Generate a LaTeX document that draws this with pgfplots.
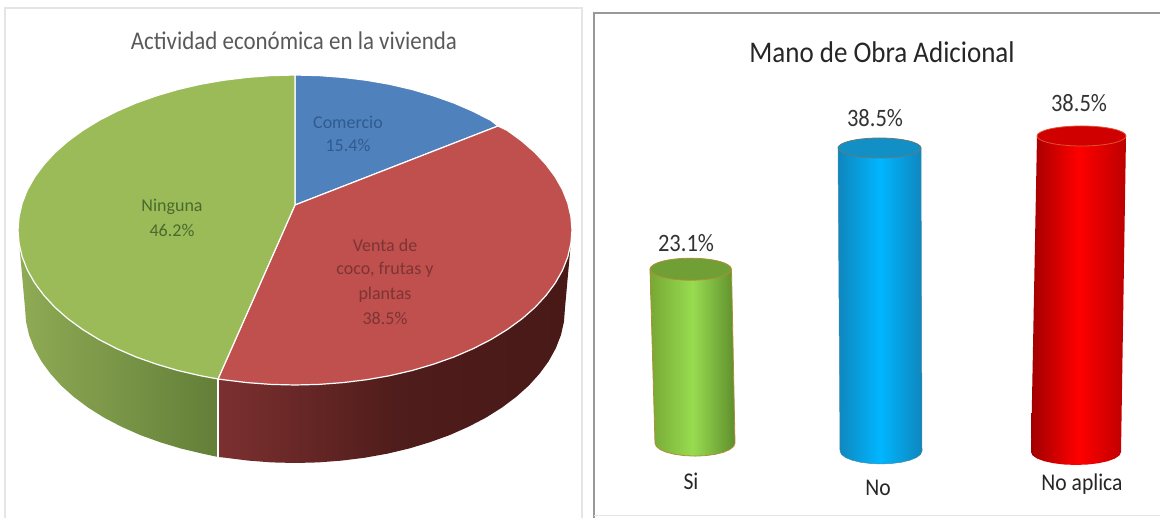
\documentclass[border=0pt]{standalone}
\usepackage{fontspec}
\setmainfont{Carlito}
\usepackage{graphicx}
\usepackage{pgfplots}
\pgfplotsset{compat=1.18}
\definecolor{pieblue}{HTML}{4F81BD}
\definecolor{piered}{HTML}{C0504D}
\definecolor{piegreen}{HTML}{9BBB59}
\definecolor{txtblue}{HTML}{2F5C8C}
\definecolor{txtred}{HTML}{7C3434}
\definecolor{txtgreen}{HTML}{4A6A2C}
\definecolor{sideGa}{HTML}{8FAB55}
\definecolor{sideGb}{HTML}{637F38}
\definecolor{sideRa}{HTML}{7C3030}
\definecolor{sideRm}{HTML}{4F1D1B}
\definecolor{sideRb}{HTML}{481917}
\definecolor{edgeG}{HTML}{AE8E3A}
\definecolor{cylGa}{HTML}{76A834}
\definecolor{cylGb}{HTML}{98DC50}
\definecolor{cylGc}{HTML}{5F8F2D}
\definecolor{cylGt}{HTML}{70A035}
\definecolor{edgeB}{HTML}{4A8CAA}
\definecolor{edgeT}{HTML}{66787A}
\definecolor{cylBa}{HTML}{0F86BD}
\definecolor{cylBb}{HTML}{00B6FF}
\definecolor{cylBt}{HTML}{1290C6}
\definecolor{cylRa}{HTML}{A00000}
\definecolor{cylRc}{HTML}{BC0000}
\definecolor{cylRt}{HTML}{D00000}
\definecolor{edgeR}{HTML}{E05030}
\newcommand{\fs}[1]{\fontsize{#1}{#1}\selectfont}
\newcommand{\narrow}[2]{\fs{#1}\scalebox{.9}[1]{#2}}
\pgfplotsset{canvas/.style={scale only axis,width=1160pt,height=518pt,at={(0pt,0pt)},anchor=south west,hide axis,xmin=0,xmax=1160}}
\begin{document}
\begin{tikzpicture}
% left panel and pie, pixel coordinates
\begin{axis}[canvas,ymin=0,ymax=518,y dir=reverse]
\path (rel axis cs:0,0) rectangle (rel axis cs:1,1);
\addplot[draw=black!10,line width=1.2pt] coordinates {(5,518) (5,8) (582,8) (582,518)};
\addplot[draw=black!40,line width=1.5pt] coordinates {(594,518) (594,13) (1160,13)};
\addplot[draw=black!10,line width=1pt] coordinates {(594,516) (1160,516)};
% side of the pie
\addplot[draw=none,left color=sideGa,right color=sideGb] coordinates {
(18,230) (19.1,243.5) (22.2,256.9) (27.4,270.1) (34.7,283) (44,295.5) (55.1,307.5) (68.1,318.9)
(82.8,329.6) (99.1,339.6) (116.9,348.7) (136.1,357) (156.5,364.2) (177.9,370.5) (200.3,375.7) (218,379)
(218,457) (202.7,453.7) (180.8,448.5) (160,442.2) (140.1,435) (121.4,426.7) (104,417.6) (88.1,407.6)
(73.8,396.9) (61.1,385.5) (50.3,373.5) (41.2,361) (34.1,348.1) (29,334.9) (26,321.5) (25,308)} -- cycle;
\addplot[draw=none,left color=sideRa,right color=sideRb,middle color=sideRm] coordinates {
(218,379) (223.3,379.7) (246.9,382.6) (270.9,384.4) (295,385) (319.1,384.4) (343.1,382.6) (366.7,379.7)
(389.7,375.7) (412.1,370.5) (433.5,364.2) (453.9,357) (473.1,348.7) (490.9,339.6) (507.2,329.6) (521.9,318.9)
(534.9,307.5) (546,295.5) (555.3,283) (562.6,270.1) (567.8,256.9) (570.9,243.5) (572,230)
(565,308) (564,321.5) (561,334.9) (555.9,348.1) (548.8,361) (539.7,373.5) (528.9,385.5) (516.2,396.9)
(501.9,407.6) (486,417.6) (468.6,426.7) (449.9,435) (430,442.2) (409.2,448.5) (387.3,453.7) (364.9,457.7)
(341.9,460.6) (318.5,462.4) (295,463) (271.5,462.4) (248.1,460.6) (225.1,457.7) (218,457)} -- cycle;
\addplot[draw=white,line width=1.2pt] coordinates {(218,379) (218,457)};
% top of the pie: Comercio 15.4, Venta 38.5, Ninguna 46.2
\addplot[draw=white,line width=1.2pt,fill=pieblue] coordinates {
(295,205) (295,75) (319.1,75.6) (343.1,77.4) (366.7,80.3) (389.7,84.3) (412.1,89.5) (433.5,95.8)
(453.9,103) (473.1,111.3) (490.9,120.4) (498,126)} -- cycle;
\addplot[draw=white,line width=1.2pt,fill=piered] coordinates {
(295,205) (498,126) (507.2,130.4) (521.9,141.1) (534.9,152.5) (546,164.5) (555.3,177) (562.6,189.9)
(567.8,203.1) (570.9,216.5) (572,230) (570.9,243.5) (567.8,256.9) (562.6,270.1) (555.3,283) (546,295.5)
(534.9,307.5) (521.9,318.9) (507.2,329.6) (490.9,339.6) (473.1,348.7) (453.9,357) (433.5,364.2) (412.1,370.5)
(389.7,375.7) (366.7,379.7) (343.1,382.6) (319.1,384.4) (295,385) (270.9,384.4) (246.9,382.6) (223.3,379.7) (218,379)} -- cycle;
\addplot[draw=white,line width=1.2pt,fill=piegreen] coordinates {
(295,205) (218,379) (200.3,375.7) (177.9,370.5) (156.5,364.2) (136.1,357) (116.9,348.7) (99.1,339.6)
(82.8,329.6) (68.1,318.9) (55.1,307.5) (44,295.5) (34.7,283) (27.4,270.1) (22.2,256.9) (19.1,243.5)
(18,230) (19.1,216.5) (22.2,203.1) (27.4,189.9) (34.7,177) (44,164.5) (55.1,152.5) (68.1,141.1)
(82.8,130.4) (99.1,120.4) (116.9,111.3) (136.1,103) (156.5,95.8) (177.9,89.5) (200.3,84.3) (223.3,80.3)
(246.9,77.4) (270.9,75.6) (295,75)} -- cycle;
\node[text=black!65] at (axis cs:294,41) {\narrow{25.5}{Actividad económica en la vivienda}};
\node[text=txtblue,align=center] at (axis cs:348,134) {\fs{18}Comercio\\[9pt]\fs{18}15.4\%};
\node[text=txtgreen,align=center] at (axis cs:172,218) {\fs{18}Ninguna\\[9pt]\fs{18}46.2\%};
\node[text=txtred,align=center] at (axis cs:385,282) {\fs{18}Venta de\\[9pt]\fs{18}coco, frutas y\\[9pt]\fs{18}plantas\\[9pt]\fs{18}38.5\%};
\node[text=black!85] at (axis cs:882,52) {\narrow{30}{Mano de Obra Adicional}};
\node[text=black!80] at (axis cs:686,243) {\narrow{25}{23.1\%}};
\node[text=black!80] at (axis cs:875,118) {\narrow{25}{38.5\%}};
\node[text=black!80] at (axis cs:1079,103) {\narrow{25}{38.5\%}};
\node[text=black!85] at (axis cs:691,481) {\narrow{24}{Si}};
\node[text=black!85] at (axis cs:878,488) {\narrow{24}{No}};
\node[text=black!85] at (axis cs:1082,484) {\narrow{24}{No aplica}};
\end{axis}
% cylinders, y in percent
\begin{axis}[canvas,ymin=-8.513,ymax=57.306]
\path (rel axis cs:0,0) rectangle (rel axis cs:1,1);
\addplot[draw=edgeG,line width=0.8pt,left color=cylGa,right color=cylGc,middle color=cylGb] coordinates {
(650,23.1) (731.5,23.1) (735,1) (733.6,.57) (729.6,.17) (723.3,-.17) (715,-.43) (705.4,-.59) (695,-.65)
(684.6,-.59) (675,-.43) (666.7,-.17) (660.4,.17) (656.4,.57) (655,1)} -- cycle;
\addplot[only marks,mark=*,mark size=1pt,mark options={xscale=40.7,yscale=11,draw=edgeG,fill=cylGt,line width=0.8pt}] coordinates {(690.7,23.1)};
\addplot[draw=edgeB,line width=0.5pt,left color=cylBa,right color=cylBa,middle color=cylBb] coordinates {
(838,38.5) (921,38.5) (922,0) (920.6,-.43) (916.5,-.83) (910,-1.17) (901.5,-1.43) (891.6,-1.59) (881,-1.65)
(870.4,-1.59) (860.5,-1.43) (852,-1.17) (845.5,-.83) (841.4,-.43) (840,0)} -- cycle;
\addplot[only marks,mark=*,mark size=1pt,mark options={xscale=41.5,yscale=10,draw=edgeT,fill=cylBt,line width=0.8pt}] coordinates {(879.5,38.5)};
\addplot[yshift=12pt,draw=none,left color=cylRa,right color=cylRc,middle color=red] coordinates {
(1037,38.5) (1126,38.5) (1121,-1.65) (1119.5,-2.08) (1115,-2.48) (1107.8,-2.82) (1098.5,-3.08) (1087.7,-3.24) (1076,-3.3)
(1064.3,-3.24) (1053.5,-3.08) (1044.2,-2.82) (1037,-2.48) (1032.5,-2.08) (1031,-1.65)} -- cycle;
\addplot[yshift=12pt,only marks,mark=*,mark size=1pt,mark options={xscale=44.5,yscale=10,draw=edgeR,fill=cylRt,line width=0.8pt}] coordinates {(1081.5,38.5)};
\end{axis}
\end{tikzpicture}
\end{document}
